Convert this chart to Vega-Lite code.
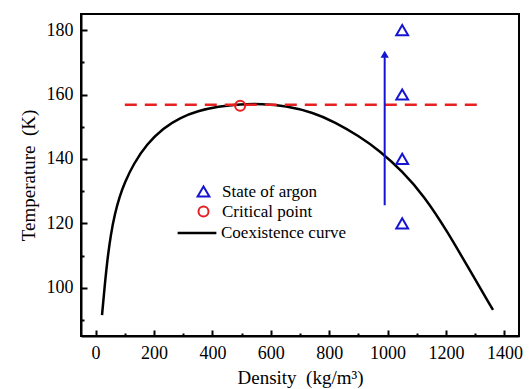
{
  "$schema": "https://vega.github.io/schema/vega-lite/v6.json",
  "width": 438,
  "height": 322,
  "autosize": {"type": "none"},
  "padding": {"left": 81, "top": 14, "right": 11, "bottom": 53},
  "background": "white",
  "config": {
    "view": {"stroke": "black", "strokeWidth": 2},
    "axis": {
      "domainColor": "black",
      "domainWidth": 2,
      "tickColor": "black",
      "tickWidth": 2,
      "grid": false,
      "labelFont": "Liberation Serif",
      "labelFontSize": 18,
      "labelColor": "black",
      "titleFont": "Liberation Serif",
      "titleFontSize": 19,
      "titleFontWeight": "normal",
      "titleColor": "black"
    },
    "legend": {
      "labelFont": "Liberation Serif",
      "labelFontSize": 17,
      "labelColor": "black",
      "titleFont": "Liberation Serif"
    }
  },
  "datasets": {
    "curve": [
      {"density": 22, "temperature": 91.5, "series": "Coexistence curve"},
      {"density": 30, "temperature": 99.5, "series": "Coexistence curve"},
      {"density": 40, "temperature": 108.5, "series": "Coexistence curve"},
      {"density": 52, "temperature": 116.5, "series": "Coexistence curve"},
      {"density": 66, "temperature": 123.0, "series": "Coexistence curve"},
      {"density": 82, "temperature": 128.3, "series": "Coexistence curve"},
      {"density": 100, "temperature": 132.7, "series": "Coexistence curve"},
      {"density": 129, "temperature": 138.3, "series": "Coexistence curve"},
      {"density": 175, "temperature": 144.6, "series": "Coexistence curve"},
      {"density": 232, "temperature": 149.6, "series": "Coexistence curve"},
      {"density": 289, "temperature": 152.8, "series": "Coexistence curve"},
      {"density": 350, "temperature": 154.9, "series": "Coexistence curve"},
      {"density": 420, "temperature": 156.3, "series": "Coexistence curve"},
      {"density": 495, "temperature": 157.0, "series": "Coexistence curve"},
      {"density": 570, "temperature": 157.1, "series": "Coexistence curve"},
      {"density": 650, "temperature": 156.5, "series": "Coexistence curve"},
      {"density": 746, "temperature": 154.4, "series": "Coexistence curve"},
      {"density": 820, "temperature": 151.4, "series": "Coexistence curve"},
      {"density": 900, "temperature": 147.2, "series": "Coexistence curve"},
      {"density": 975, "temperature": 142.4, "series": "Coexistence curve"},
      {"density": 1050, "temperature": 136.2, "series": "Coexistence curve"},
      {"density": 1124, "temperature": 128.6, "series": "Coexistence curve"},
      {"density": 1204, "temperature": 117.6, "series": "Coexistence curve"},
      {"density": 1284, "temperature": 105.0, "series": "Coexistence curve"},
      {"density": 1361, "temperature": 93.1, "series": "Coexistence curve"}
    ],
    "points": [
      {"density": 1050, "temperature": 180, "series": "State of argon"},
      {"density": 1050, "temperature": 160, "series": "State of argon"},
      {"density": 1050, "temperature": 140, "series": "State of argon"},
      {"density": 1050, "temperature": 120, "series": "State of argon"},
      {"density": 495, "temperature": 156.5, "series": "Critical point"}
    ],
    "critical": [
      {"density": 100, "temperature": 156.8},
      {"density": 1322, "temperature": 156.8}
    ],
    "arrow": [
      {"density": 990, "start": 125.6, "end": 172.5}
    ]
  },
  "encoding": {
    "x": {
      "field": "density",
      "type": "quantitative",
      "scale": {"domain": [-50, 1450], "nice": false, "zero": false},
      "axis": {
        "title": "Density\u00a0 (kg/m³)",
        "values": [0, 100, 200, 300, 400, 500, 600, 700, 800, 900, 1000, 1100, 1200, 1300, 1400],
        "labelExpr": "datum.value % 200 === 0 ? datum.label : ''",
        "format": "d",
        "tickSize": {"condition": {"test": "datum.value % 200 === 0", "value": -6}, "value": -3},
        "labelPadding": 14,
        "titlePadding": 6
      }
    },
    "y": {
      "field": "temperature",
      "type": "quantitative",
      "scale": {"domain": [85, 185], "nice": false, "zero": false},
      "axis": {
        "title": "Temperature\u00a0 (K)",
        "values": [90, 100, 110, 120, 130, 140, 150, 160, 170, 180],
        "labelExpr": "datum.value % 20 === 0 ? datum.label : ''",
        "tickSize": {"condition": {"test": "datum.value % 20 === 0", "value": -6}, "value": -3},
        "labelPadding": 14,
        "titlePadding": 8
      }
    }
  },
  "layer": [
    {
      "data": {"name": "curve"},
      "mark": {"type": "line", "strokeWidth": 2.5, "interpolate": "basis"},
      "encoding": {
        "stroke": {
          "field": "series",
          "type": "nominal",
          "scale": {"range": ["#000000"]},
          "legend": {
            "orient": "none", "legendX": 95, "legendY": 198, "title": null, "padding": 0,
            "symbolType": "stroke", "symbolSize": 1500, "symbolStrokeWidth": 2.5,
            "labelOffset": 3
          }
        }
      }
    },
    {
      "data": {"name": "critical"},
      "mark": {"type": "line", "color": "#e62020", "strokeWidth": 2.5, "strokeDash": [12, 8]},
      "encoding": {}
    },
    {
      "data": {"name": "points"},
      "mark": {"type": "point", "filled": false, "strokeWidth": 2, "opacity": 1},
      "encoding": {
        "color": {
          "field": "series",
          "type": "nominal",
          "scale": {"domain": ["State of argon", "Critical point"], "range": ["#1414d2", "#e62020"]},
          "legend": {
            "orient": "none", "legendX": 114, "legendY": 169, "title": null, "padding": 0,
            "symbolStrokeWidth": 2, "labelOffset": 10, "rowPadding": 1
          }
        },
        "shape": {
          "field": "series",
          "type": "nominal",
          "scale": {"domain": ["State of argon", "Critical point"], "range": ["triangle-up", "circle"]},
          "legend": {
            "orient": "none", "legendX": 114, "legendY": 169, "title": null, "padding": 0,
            "symbolStrokeWidth": 2, "labelOffset": 10, "rowPadding": 1
          }
        },
        "size": {
          "field": "series",
          "type": "nominal",
          "scale": {"domain": ["State of argon", "Critical point"], "range": [140, 100]},
          "legend": null
        }
      }
    },
    {
      "data": {"name": "arrow"},
      "mark": {"type": "rule", "color": "#1414d2", "strokeWidth": 2},
      "encoding": {
        "y": {"field": "start", "type": "quantitative"},
        "y2": {"field": "end"}
      }
    },
    {
      "data": {"name": "arrow"},
      "mark": {"type": "point", "shape": "triangle-up", "filled": true, "color": "#1414d2", "size": 70, "opacity": 1},
      "encoding": {
        "y": {"field": "end", "type": "quantitative"}
      }
    }
  ]
}
